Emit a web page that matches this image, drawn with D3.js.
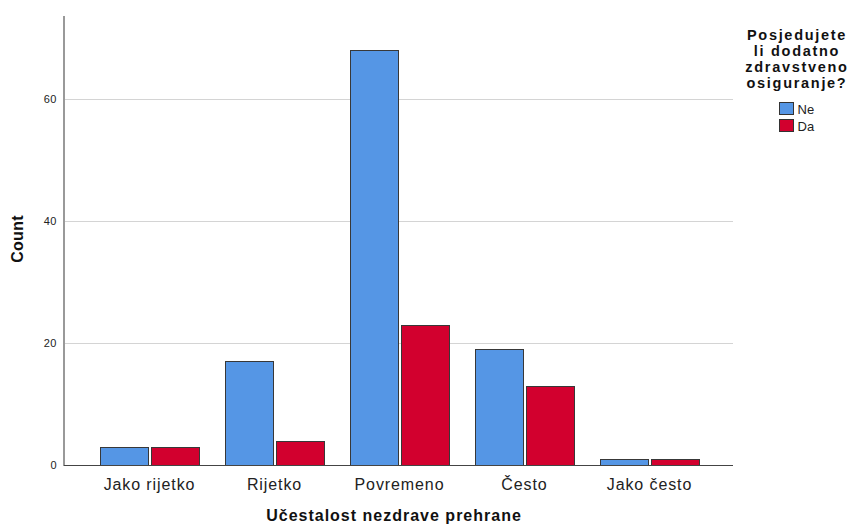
<!DOCTYPE html>
<html><head><meta charset="utf-8">
<script src="https://cdn.jsdelivr.net/npm/d3@7"></script>
<style>body{margin:0;background:#fff;font-family:"Liberation Sans",Arial,sans-serif;}</style>
</head><body><svg id="c" width="855" height="524"></svg>
<script>
const categories = ["Jako rijetko","Rijetko","Povremeno","Često","Jako često"];
const seriesNames = ["Ne","Da"];
const valuesNe = [3,17,68,19,1];
const valuesDa = [3,4,23,13,1];
const yTicks = [0,20,40,60];
const colors = ["#5596E5","#D2002E"];

const svg = d3.select("#c");
const axisLeft = 64, axisRight = 733, yTop = 16, yBottom = 465;
const x = d3.scaleBand().domain(categories).range([87, 712]).paddingInner(0.2).paddingOuter(0.1);
const y = d3.scaleLinear().domain([0, 73.6]).range([yBottom, yTop]);

// gridlines
svg.append("g").selectAll("line").data(yTicks.filter(d=>d>0)).join("line")
  .attr("x1", axisLeft).attr("x2", axisRight)
  .attr("y1", d=>Math.round(y(d))+0.5).attr("y2", d=>Math.round(y(d))+0.5)
  .attr("stroke", "#d4d4d4").attr("stroke-width", 1);

// y tick labels
svg.append("g").selectAll("text").data(yTicks).join("text")
  .attr("x", 57).attr("y", d=>y(d)).attr("dy","0.35em")
  .attr("text-anchor","end").attr("font-size", 11).attr("letter-spacing", 0.5).attr("fill","#222")
  .text(d=>d);

// bars
const data = categories.map((c,i)=>({c, vals:[valuesNe[i], valuesDa[i]]}));
const sub = d3.scaleBand().domain([0,1]).range([0, x.bandwidth()]).paddingInner(0.05);
const g = svg.append("g");
data.forEach(d=>{
  d.vals.forEach((v,j)=>{
    g.append("rect")
      .attr("x", Math.round(x(d.c)+sub(j))+0.5)
      .attr("y", Math.round(y(v))+0.5)
      .attr("width", Math.round(sub.bandwidth())-1)
      .attr("height", yBottom-Math.round(y(v)))
      .attr("fill", colors[j])
      .attr("stroke", "#383838").attr("stroke-width", 1);
  });
});

// axes lines
svg.append("line").attr("x1", axisLeft).attr("x2", axisLeft).attr("y1", yTop).attr("y2", yBottom+1)
  .attr("stroke","#999").attr("stroke-width",2);
svg.append("line").attr("x1", axisLeft).attr("x2", axisRight).attr("y1", yBottom+0.5).attr("y2", yBottom+0.5)
  .attr("stroke","#444").attr("stroke-width",1);

// x tick labels
svg.append("g").selectAll("text").data(categories).join("text")
  .attr("x", d=>x(d)+x.bandwidth()/2).attr("y", 490)
  .attr("text-anchor","middle").attr("font-size", 16).attr("letter-spacing", 0.9).attr("fill","#222")
  .text(d=>d);

// axis titles
svg.append("text").attr("x", 394).attr("y", 521).attr("text-anchor","middle")
  .attr("font-size", 16).attr("font-weight","bold").attr("letter-spacing", 1).attr("fill","#111")
  .text("Učestalost nezdrave prehrane");
svg.append("text").attr("transform","translate(23,239) rotate(-90)").attr("text-anchor","middle")
  .attr("font-size", 16).attr("font-weight","bold").attr("letter-spacing", 0.3).attr("fill","#111")
  .text("Count");

// legend
const legTitle = ["Posjedujete","li dodatno","zdravstveno","osiguranje?"];
svg.append("g").selectAll("text").data(legTitle).join("text")
  .attr("x", 797).attr("y", (d,i)=>40+i*16).attr("text-anchor","middle")
  .attr("font-size", 14.5).attr("font-weight","bold").attr("letter-spacing", 1.7).attr("fill","#111")
  .text(d=>d);
const leg = svg.append("g").selectAll("g").data(seriesNames).join("g")
  .attr("transform",(d,i)=>`translate(779.5,${102.5+i*17})`);
leg.append("rect").attr("width",14).attr("height",12).attr("fill",(d,i)=>colors[i])
  .attr("stroke","#333").attr("stroke-width",1);
leg.append("text").attr("x",18).attr("y",11.5).attr("font-size",13).attr("fill","#222").text(d=>d);
</script></body></html>
